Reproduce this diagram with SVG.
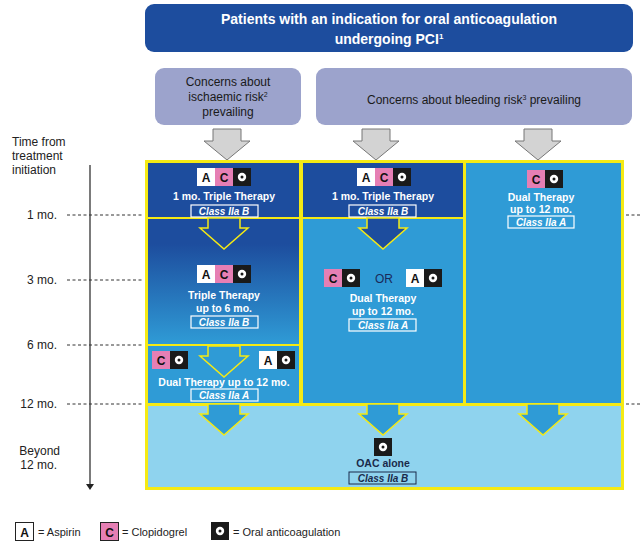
<svg xmlns="http://www.w3.org/2000/svg" width="641" height="553" viewBox="0 0 641 553">
<style>
text{font-family:"Liberation Sans",Arial,sans-serif}
.w{fill:#fff;font-weight:bold;font-size:10.5px;text-anchor:middle}
.tt{fill:#fff;font-weight:bold;font-size:14px;text-anchor:middle}
.cls{fill:#fff;font-weight:bold;font-style:italic;font-size:10px;text-anchor:middle}
.cb{fill:none;stroke:#fff;stroke-width:1.2}
.lab{fill:#222;font-size:12px;text-anchor:end}
.dash{stroke:#333;stroke-width:1;stroke-dasharray:3,2.5}
.bA{fill:#fff}.bC{fill:#e67fb4}.bO{fill:#1a1a1a}
.bt{font-weight:bold;font-size:12px;text-anchor:middle;fill:#111}
.gc{fill:#9ca3cc}
.gt{fill:#1a1a1a;font-size:12px;text-anchor:middle}
.ga{fill:#d3d3d3;stroke:#777;stroke-width:1}
.ya{stroke:#f5ea14;stroke-width:1.5}
</style>
<defs>
<g id="A"><rect width="18" height="18" class="bA"/><text x="9" y="14" class="bt">A</text></g>
<g id="C"><rect width="18" height="18" class="bC"/><text x="9" y="14" class="bt">C</text></g>
<g id="O"><rect width="18" height="18" class="bO"/><circle cx="9" cy="9" r="4.2" fill="#fff"/><circle cx="9" cy="9" r="1.5" fill="#1a1a1a"/></g>
<path id="arr" d="M-16,0 H16 V10 H24 L0,31 L-24,10 H-16 Z"/>
<path id="garr" d="M-14,0 H14 V12 H23 L0,31 L-23,12 H-14 Z"/>
<linearGradient id="grad" x1="0" y1="0" x2="0" y2="1"><stop offset="0.2" stop-color="#1d4d9e"/><stop offset="1" stop-color="#2f9bd6"/></linearGradient>
</defs>
<g id="title"><rect x="145" y="4" width="488" height="48" rx="9" fill="#1d4d9e"/>
<text x="389" y="24" class="tt">Patients with an indication for oral anticoagulation</text>
<text x="389" y="44" class="tt">undergoing PCI<tspan font-size="8" dy="-5">1</tspan></text></g>
<g id="concern1"><rect x="155" y="68" width="146" height="57" rx="9" class="gc"/>
<text x="228" y="86" class="gt">Concerns about</text><text x="228" y="101" class="gt">ischaemic risk<tspan font-size="7" dy="-4">2</tspan></text><text x="228" y="116" class="gt">prevailing</text></g>
<g id="concern2"><rect x="316" y="68" width="316" height="57" rx="9" class="gc"/>
<text x="474" y="104" class="gt">Concerns about bleeding risk<tspan font-size="7" dy="-4">3</tspan><tspan dy="4"> prevailing</tspan></text></g>
<g id="connectors">
<use href="#garr" x="227" y="129" class="ga"/><use href="#garr" x="376" y="129" class="ga"/><use href="#garr" x="538" y="129" class="ga"/>
<line x1="90" y1="165" x2="90" y2="486" stroke="#222" stroke-width="1.2"/>
<path d="M86,484 L94,484 L90,490 Z" fill="#222"/>
<line x1="67" y1="215" x2="144" y2="215" class="dash"/><line x1="67" y1="280" x2="144" y2="280" class="dash"/>
<line x1="67" y1="345" x2="144" y2="345" class="dash"/><line x1="67" y1="404" x2="144" y2="404" class="dash"/>
<line x1="626" y1="215" x2="641" y2="215" class="dash"/><line x1="626" y1="404" x2="641" y2="404" class="dash"/>
</g>
<g id="axis"><text x="12" y="146" font-size="12" fill="#222">Time from</text><text x="12" y="160" font-size="12" fill="#222">treatment</text><text x="12" y="174" font-size="12" fill="#222">initiation</text>
<text x="57" y="219" class="lab">1 mo.</text><text x="57" y="284" class="lab">3 mo.</text><text x="57" y="349" class="lab">6 mo.</text><text x="57" y="408" class="lab">12 mo.</text>
<text x="60" y="455" class="lab">Beyond</text><text x="57" y="469" class="lab">12 mo.</text></g>
<g id="frame">
<rect x="145" y="160" width="479" height="330" fill="#f5ea14"/>
<rect x="148" y="163" width="151" height="54" fill="#1d4d9e"/>
<rect x="148" y="219" width="151" height="125" fill="url(#grad)"/>
<rect x="148" y="346" width="151" height="57" fill="#2f9bd6"/>
<rect x="303" y="163" width="160" height="54" fill="#1d4d9e"/>
<rect x="303" y="219" width="160" height="184" fill="#2f9bd6"/>
<rect x="466" y="163" width="155" height="240" fill="#2f9bd6"/>
<rect x="148" y="406" width="473" height="81" fill="#8fd3ee"/>
</g>
<g id="c1top"><use href="#A" x="197" y="168"/><use href="#C" x="215" y="168"/><use href="#O" x="233" y="168"/>
<text x="224" y="200" class="w">1 mo. Triple Therapy</text><rect x="191" y="205" width="67" height="12" class="cb"/><text x="224" y="215" class="cls">Class IIa B</text></g>
<use href="#arr" x="224" y="218" fill="#1d4d9e" class="ya"/>
<g id="c1mid"><use href="#A" x="197" y="265"/><use href="#C" x="215" y="265"/><use href="#O" x="233" y="265"/>
<text x="224" y="299" class="w">Triple Therapy</text><text x="224" y="312" class="w">up to 6 mo.</text>
<rect x="191" y="316" width="67" height="12" class="cb"/><text x="224" y="326" class="cls">Class IIa B</text></g>
<use href="#arr" x="224" y="346" fill="#2f9bd6" class="ya"/>
<g id="c1bot"><use href="#C" x="152" y="351"/><use href="#O" x="170" y="351"/><use href="#A" x="259" y="351"/><use href="#O" x="277" y="351"/>
<text x="224" y="386" class="w">Dual Therapy up to 12 mo.</text>
<rect x="191" y="389" width="67" height="12" class="cb"/><text x="224" y="399" class="cls">Class IIa A</text></g>
<g id="c2top"><use href="#A" x="357" y="168"/><use href="#C" x="375" y="168"/><use href="#O" x="393" y="168"/>
<text x="383" y="200" class="w">1 mo. Triple Therapy</text><rect x="349" y="205" width="67" height="12" class="cb"/><text x="383" y="215" class="cls">Class IIa B</text></g>
<use href="#arr" x="383" y="218" fill="#1d4d9e" class="ya"/>
<g id="c2mid"><use href="#C" x="324" y="269"/><use href="#O" x="342" y="269"/>
<text x="384" y="283" font-size="12" fill="#1a2a5a" text-anchor="middle">OR</text>
<use href="#A" x="406" y="269"/><use href="#O" x="424" y="269"/>
<text x="383" y="302" class="w">Dual Therapy</text><text x="383" y="315" class="w">up to 12 mo.</text>
<rect x="349" y="319" width="67" height="12" class="cb"/><text x="383" y="329" class="cls">Class IIa A</text></g>
<g id="c3"><use href="#C" x="527" y="170"/><use href="#O" x="545" y="170"/>
<text x="541" y="201" class="w">Dual Therapy</text><text x="541" y="213" class="w">up to 12 mo.</text>
<rect x="508" y="216" width="66" height="12" class="cb"/><text x="541" y="226" class="cls">Class IIa A</text></g>
<use href="#arr" x="224" y="404" fill="#2f9bd6" class="ya"/>
<use href="#arr" x="383" y="404" fill="#2f9bd6" class="ya"/>
<use href="#arr" x="543" y="404" fill="#2f9bd6" class="ya"/>
<g id="bottom"><use href="#O" x="374" y="438"/>
<text x="383" y="467" font-weight="bold" font-size="10.5" fill="#1a2a4a" text-anchor="middle">OAC alone</text>
<rect x="349" y="472" width="67" height="12" fill="none" stroke="#1a2a4a" stroke-width="1"/><text x="383" y="482" class="cls" style="fill:#1a2a4a">Class IIa B</text></g>
<g id="legend">
<rect x="15.5" y="522.5" width="18" height="18" fill="#fff" stroke="#222"/><text x="24.5" y="537" class="bt">A</text>
<text x="38" y="536" font-size="11" fill="#222">= Aspirin</text>
<rect x="100.5" y="522.5" width="18" height="18" fill="#e67fb4" stroke="#222"/><text x="109.5" y="537" class="bt">C</text>
<text x="122" y="536" font-size="11" fill="#222">= Clopidogrel</text>
<use href="#O" x="211" y="522"/>
<text x="233" y="536" font-size="11" fill="#222">= Oral anticoagulation</text></g>
</svg>
